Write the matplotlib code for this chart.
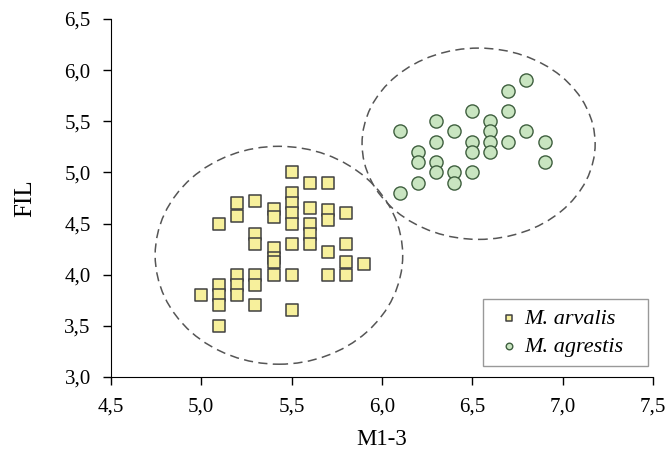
import matplotlib.pyplot as plt
from matplotlib.patches import Ellipse
from matplotlib.ticker import FuncFormatter, MultipleLocator

plt.rcParams['font.family'] = ['Liberation Serif', 'DejaVu Serif']

# M. arvalis (squares)
arvalis_x = [5.0,
             5.1, 5.1, 5.1, 5.1, 5.1,
             5.2, 5.2, 5.2, 5.2, 5.2,
             5.3, 5.3, 5.3, 5.3, 5.3, 5.3,
             5.4, 5.4, 5.4, 5.4, 5.4, 5.4,
             5.5, 5.5, 5.5, 5.5, 5.5, 5.5, 5.5, 5.5,
             5.6, 5.6, 5.6, 5.6, 5.6,
             5.7, 5.7, 5.7, 5.7, 5.7,
             5.8, 5.8, 5.8, 5.8,
             5.9]
arvalis_y = [3.8,
             4.5, 3.9, 3.8, 3.7, 3.5,
             4.7, 4.57, 4.0, 3.9, 3.8,
             4.72, 4.4, 4.3, 4.0, 3.9, 3.7,
             4.64, 4.56, 4.26, 4.16, 4.12, 4.0,
             5.0, 4.8, 4.7, 4.6, 4.5, 4.3, 4.0, 3.65,
             4.9, 4.65, 4.5, 4.4, 4.3,
             4.9, 4.63, 4.53, 4.22, 4.0,
             4.6, 4.3, 4.12, 4.0,
             4.1]

# M. agrestis (circles)
agrestis_x = [6.1, 6.1,
              6.2, 6.2, 6.2,
              6.3, 6.3, 6.3, 6.3,
              6.4, 6.4, 6.4,
              6.5, 6.5, 6.5, 6.5,
              6.6, 6.6, 6.6, 6.6,
              6.7, 6.7, 6.7,
              6.8, 6.8,
              6.9, 6.9]
agrestis_y = [5.4, 4.8,
              5.2, 5.1, 4.9,
              5.5, 5.3, 5.1, 5.0,
              5.4, 5.0, 4.9,
              5.6, 5.3, 5.2, 5.0,
              5.5, 5.4, 5.3, 5.2,
              5.8, 5.6, 5.3,
              5.9, 5.4,
              5.3, 5.1]

# dashed group outlines: (centre x, centre y, width, height)
arvalis_ring = (5.43, 4.19, 1.37, 2.13)
agrestis_ring = (6.535, 5.28, 1.29, 1.87)

fig = plt.figure(figsize=(6.68, 4.62), dpi=100)
ax = fig.add_axes([0.166, 0.184, 0.8115, 0.775])

for cx, cy, w, h in (arvalis_ring, agrestis_ring):
    ax.add_patch(Ellipse((cx, cy), w, h, fill=False, edgecolor='#555555',
                         linewidth=1.1, linestyle=(0, (6, 3.5)), zorder=1))

ax.scatter(arvalis_x, arvalis_y, marker='s', s=78, facecolor='#f7f09c',
           edgecolor='#404040', linewidth=1.1, zorder=3, label='M. arvalis')
ax.scatter(agrestis_x, agrestis_y, marker='o', s=90, facecolor='#c9e5c1',
           edgecolor='#3f5f3f', linewidth=1.0, zorder=3, label='M. agrestis')

ax.set_xlim(4.5, 7.5)
ax.set_ylim(3.0, 6.5)
ax.xaxis.set_major_locator(MultipleLocator(0.5))
ax.yaxis.set_major_locator(MultipleLocator(0.5))
comma = FuncFormatter(lambda v, p: f'{v:.1f}'.replace('.', ','))
ax.xaxis.set_major_formatter(comma)
ax.yaxis.set_major_formatter(comma)

ax.spines['top'].set_visible(False)
ax.spines['right'].set_visible(False)
ax.tick_params(direction='out', length=5.5, width=1, labelsize=15, pad=9,
               colors='black')

ax.set_xlabel('M1-3', fontsize=16.5, labelpad=9)
ax.set_ylabel('FIL', fontsize=18, labelpad=20)

# legend box spans a fixed area in the lower right corner
leg = ax.legend(loc='lower left', bbox_to_anchor=(0.686, 0.031, 0.305, 0.184),
                mode='expand', prop={'style': 'italic', 'size': 16},
                markerscale=0.5, handletextpad=-0.04, handlelength=1.53,
                borderpad=0.4, borderaxespad=0.0, labelspacing=0.35,
                fancybox=False, framealpha=1)
leg.get_frame().set_edgecolor('#999999')
leg.get_frame().set_linewidth(1.0)

fig.savefig('out.png', dpi=100)
